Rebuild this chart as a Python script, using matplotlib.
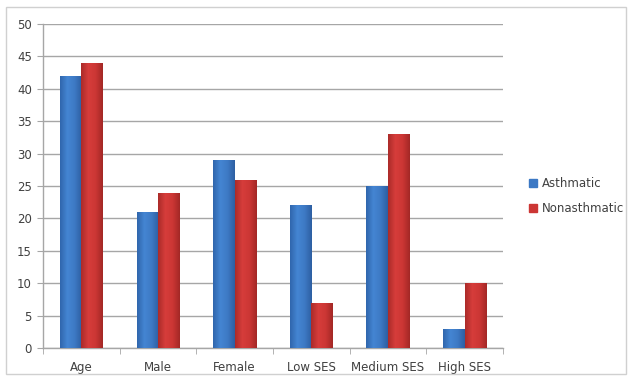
import numpy as np
import matplotlib
matplotlib.use("Agg")
import matplotlib.pyplot as plt
from matplotlib.colors import LinearSegmentedColormap
from matplotlib.patches import Rectangle

categories = ["Age", "Male", "Female", "Low SES", "Medium SES", "High SES"]
asthmatic = [42, 21, 29, 22, 25, 3]
nonasthmatic = [44, 24, 26, 7, 33, 10]
series_names = ["Asthmatic", "Nonasthmatic"]

text_col = "#404040"
grid_col = "#a6a6a6"

fig = plt.figure(figsize=(6.3, 3.82), dpi=100)
fig.patch.set_facecolor("white")
# light frame around the whole chart
fig.add_artist(Rectangle((0.009, 0.022), 0.984, 0.96, transform=fig.transFigure,
                         fill=False, edgecolor="#d0d0d0", linewidth=1))

ax = fig.add_axes([0.0683, 0.089, 0.73, 0.848])

# horizontal shading for the bars: darker edges, lighter left of centre
blue_cmap = LinearSegmentedColormap.from_list(
    "b", ["#3066ad", "#4485d2", "#3e7ac5", "#2d5fa2"])
red_cmap = LinearSegmentedColormap.from_list(
    "r", ["#ab2b29", "#d63d3b", "#cc3634", "#a32826"])
grad = np.linspace(0, 1, 64).reshape(1, -1)

x = np.arange(len(categories))
w = 0.28
bars_a = ax.bar(x - w / 2, asthmatic, w, color="none", edgecolor="none", zorder=3)
bars_n = ax.bar(x + w / 2, nonasthmatic, w, color="none", edgecolor="none", zorder=3)

# fill each bar with the gradient, clipped to the bar rectangle
for bars, cmap in ((bars_a, blue_cmap), (bars_n, red_cmap)):
    for b in bars:
        x0, y0 = b.get_x(), b.get_y()
        im = ax.imshow(grad, cmap=cmap, aspect="auto", zorder=3.5,
                       extent=[x0, x0 + b.get_width(), y0, y0 + b.get_height()])
        im.set_clip_path(b)

ax.set_xlim(-0.5, len(categories) - 0.5)
ax.set_ylim(0, 50)
ax.set_yticks(range(0, 51, 5))
ax.yaxis.grid(True, color=grid_col, linewidth=1)
ax.set_axisbelow(True)

ax.set_xticks(x)
ax.set_xticklabels(categories)
ax.set_xticks(np.arange(-0.5, len(categories)), minor=True)
ax.tick_params(axis="x", which="major", length=0, pad=9, labelsize=8.5,
               labelcolor=text_col)
ax.tick_params(axis="x", which="minor", length=4, color=grid_col, direction="out")
ax.tick_params(axis="y", length=4, color=grid_col, labelsize=8.5,
               labelcolor=text_col, pad=4)

for s in ("top", "right"):
    ax.spines[s].set_visible(False)
for s in ("left", "bottom"):
    ax.spines[s].set_color(grid_col)
    ax.spines[s].set_linewidth(1)

handles = [Rectangle((0, 0), 1, 1, color="#3b78c4"),
           Rectangle((0, 0), 1, 1, color="#cc3634")]
fig.legend(handles, series_names, loc="center left",
           bbox_to_anchor=(0.823, 0.487), frameon=False, fontsize=8.5,
           labelcolor=text_col, handlelength=0.7, handleheight=0.7,
           handletextpad=0.4, labelspacing=1.0)

fig.savefig("out.png", dpi=100, facecolor="white")
